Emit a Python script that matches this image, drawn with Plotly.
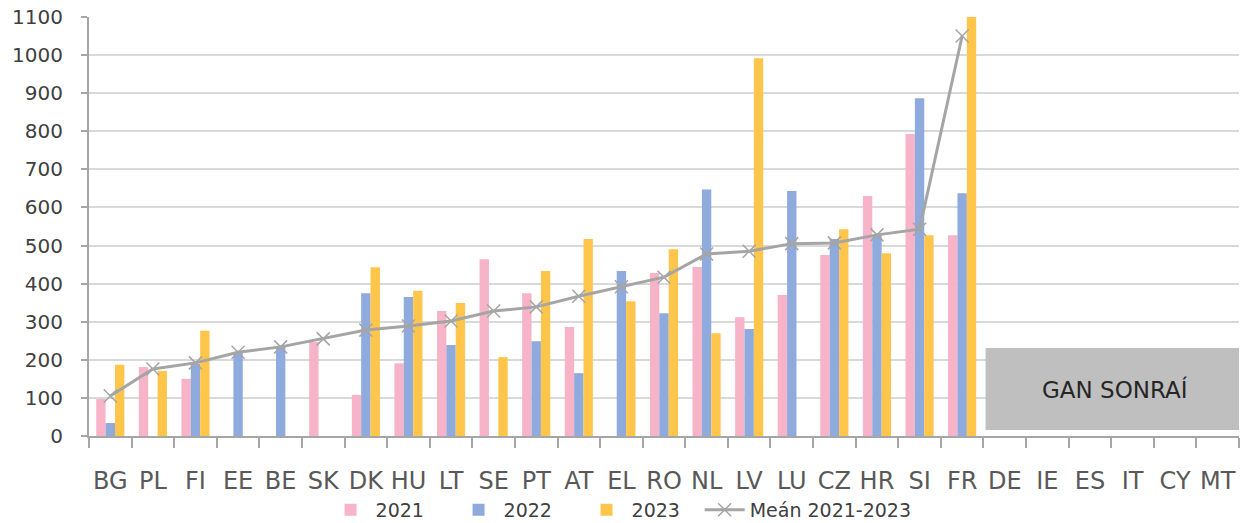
import plotly.graph_objects as go

categories = ["BG","PL","FI","EE","BE","SK","DK","HU","LT","SE","PT","AT","EL","RO",
              "NL","LV","LU","CZ","HR","SI","FR","DE","IE","ES","IT","CY","MT"]
v2021 = [97,181,150,None,None,247,108,191,328,464,375,286,None,428,444,312,370,475,630,793,527,
         None,None,None,None,None,None]
v2022 = [34,None,190,220,234,None,375,365,239,None,249,165,433,322,647,281,643,517,528,887,637,
         None,None,None,None,None,None]
v2023 = [187,171,276,None,None,None,443,381,349,207,433,517,354,490,270,992,None,543,480,527,1990,
         None,None,None,None,None,None]
mean = [105,176,192,220,234,255,278,289,302,328,339,367,392,417,478,485,505,507,528,543,1050,
        None,None,None,None,None,None]
series_names = ["2021", "2022", "2023", "Meán 2021-2023"]
no_data_label = "GAN SONRAÍ"

FONT = "DejaVu Sans"
TXT = "#404040"

fig = go.Figure()
for name, vals, col in [(series_names[0], v2021, "#F7B3C7"),
                        (series_names[1], v2022, "#8FAADC"),
                        (series_names[2], v2023, "#FFC64B")]:
    fig.add_trace(go.Bar(x=categories, y=vals, name=name, legend="legend",
                         marker=dict(color=col, line=dict(width=0))))

fig.add_trace(go.Scatter(x=categories, y=mean, name=series_names[3], mode="lines+markers",
                         legend="legend2",
                         line=dict(color="#A5A5A5", width=3),
                         marker=dict(symbol="x-thin-open", size=13, color="#A5A5A5",
                                     line=dict(width=1.5, color="#A5A5A5")),
                         connectgaps=False))

fig.add_shape(type="rect", xref="x", yref="y", x0=20.55, x1=26.6, y0=16, y1=231,
              fillcolor="#BFBFBF", line=dict(width=0), layer="above")
fig.add_annotation(x=23.6, y=123, xref="x", yref="y", text=no_data_label, showarrow=False,
                   font=dict(family=FONT, size=23, color="#262626"))

fig.update_layout(
    width=1243, height=523,
    margin=dict(l=89, r=4, t=17, b=87),
    paper_bgcolor="white", plot_bgcolor="white",
    barmode="group", bargap=0.34, bargroupgap=0,
    font=dict(family=FONT, color=TXT),
    showlegend=True,
    legend=dict(orientation="h", xanchor="left", x=0.2057, yref="container", yanchor="middle", y=0.025,
                font=dict(family=FONT, size=19, color=TXT), entrywidth=73,
                itemwidth=40, bgcolor="rgba(0,0,0,0)"),
    legend2=dict(orientation="h", xanchor="left", x=0.531, yref="container", yanchor="middle", y=0.025,
                 font=dict(family=FONT, size=19, color=TXT),
                 itemwidth=40, bgcolor="rgba(0,0,0,0)"),
)
fig.update_xaxes(type="category", showline=True, linecolor="#A6A6A6", linewidth=2,
                 ticks="outside", tickson="boundaries", ticklen=10, tickcolor="#A6A6A6", tickwidth=2,
                 tickfont=dict(family=FONT, size=24, color="#595959"), ticklabelstandoff=22,
                 tickangle=0, automargin=False, ticklabeloverflow="allow",
                 showgrid=False, range=[-0.5, 26.5])
fig.update_yaxes(range=[0, 1100], dtick=100, showline=True, linecolor="#A6A6A6", linewidth=2,
                 ticks="outside", ticklen=6, tickcolor="#A6A6A6", tickwidth=2,
                 gridcolor="#D9D9D9", gridwidth=2, zeroline=False, automargin=False,
                 ticklabeloverflow="allow",
                 tickfont=dict(family=FONT, size=20, color=TXT), ticklabelstandoff=14)

fig.write_html("out.html", config={"displayModeBar": False},
               post_script="document.documentElement.style.overflow='hidden';"
                           "document.body.style.margin='0';document.body.style.overflow='hidden';")
